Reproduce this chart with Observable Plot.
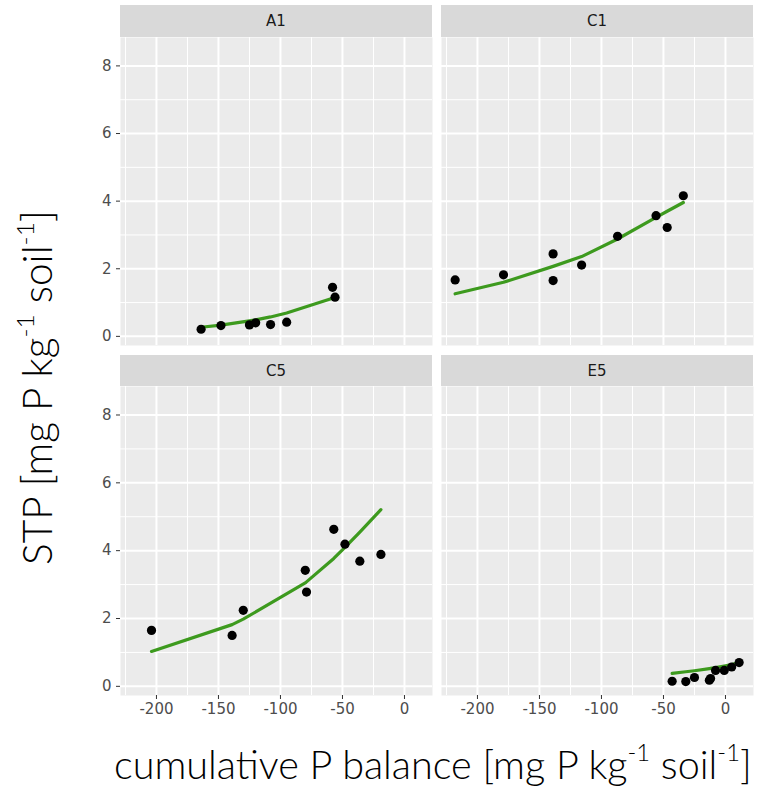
<!DOCTYPE html>
<html><head><meta charset="utf-8">
<script src="https://cdn.jsdelivr.net/npm/d3@7"></script>
<script src="https://cdn.jsdelivr.net/npm/@observablehq/plot@0.6"></script>
<style>
body{margin:0;background:#fff;}
#wrap{position:relative;width:784px;height:790px;overflow:hidden;font-family:"DejaVu Sans",sans-serif;}
.strip{position:absolute;background:#D9D9D9;color:#1a1a1a;font-size:15px;display:flex;align-items:center;justify-content:center;font-family:"DejaVu Sans",sans-serif;}
.panel{position:absolute;}
.panel svg text{font-size:15px !important;font-family:"DejaVu Sans",sans-serif !important;}
#titles{position:absolute;left:0;top:0;}
#titles text{font-family:Lato,sans-serif;font-weight:300;fill:#000;}
</style></head><body><div id="wrap"></div>
<script>
// ---- data ----
const panelNames = ["A1", "C1", "C5", "E5"];
const a1X   = [-164, -148, -125, -120, -108, -95, -58, -56];
const a1Y   = [0.21, 0.32, 0.34, 0.40, 0.35, 0.42, 1.45, 1.16];
const a1Fit = [0.27, 0.335, 0.46, 0.49, 0.575, 0.69, 1.13, 1.16];
const c1X   = [-218, -179, -139, -139, -116, -87, -56, -47, -34];
const c1Y   = [1.67, 1.82, 2.44, 1.65, 2.11, 2.96, 3.57, 3.22, 4.16];
const c1Fit = [1.26, 1.60, 2.07, 2.07, 2.36, 2.88, 3.52, 3.70, 3.96];
const c5X   = [-204, -139, -130, -80, -79, -57, -48, -36, -19];
const c5Y   = [1.65, 1.50, 2.24, 3.42, 2.78, 4.63, 4.19, 3.69, 3.89];
const c5Fit = [1.03, 1.82, 1.98, 3.05, 3.08, 3.77, 4.10, 4.55, 5.21];
const e5X   = [-43, -32, -25, -13, -12, -8, -1, 5, 11];
const e5Y   = [0.15, 0.14, 0.26, 0.18, 0.23, 0.47, 0.47, 0.57, 0.70];
const e5Fit = [0.38, 0.43, 0.46, 0.52, 0.53, 0.55, 0.60, 0.64, 0.70];
const xTicks = [-200, -150, -100, -50, 0];
const xMinor = [-225, -175, -125, -75, -25];
const yTicks = [0, 2, 4, 6, 8];
const yMinor = [1, 3, 5, 7];
// titles as [text, isSuperscript] pieces
const xTitleParts = [["cumulative P balance [mg P kg", false], ["-1", true], [" soil", false], ["-1", true], ["]", false]];
const yTitleParts = [["STP [mg P kg", false], ["-1", true], [" soil", false], ["-1", true], ["]", false]];

const xDomain = [-229, 22.6];
const yDomain = [-0.27, 8.84];
const green = "#3d9a1e";

const series = [
  {name: panelNames[0], xs: a1X, ys: a1Y, fits: a1Fit, col: 0, row: 0},
  {name: panelNames[1], xs: c1X, ys: c1Y, fits: c1Fit, col: 1, row: 0},
  {name: panelNames[2], xs: c5X, ys: c5Y, fits: c5Fit, col: 0, row: 1},
  {name: panelNames[3], xs: e5X, ys: e5Y, fits: e5Fit, col: 1, row: 1}
];

const wrap = document.getElementById("wrap");
const colLeft = [120, 441];
const stripTop = [5, 355];
const stripH = [32, 31];
const panelW = 312;
const panelH = [308, 309];

for (const s of series) {
  const data = s.xs.map((x, i) => ({x, y: s.ys[i], fit: s.fits[i]}));
  const showY = s.col === 0, showX = s.row === 1;
  const mL = showY ? 120 : 0, mB = showX ? 30 : 0;
  const marks = [
    Plot.frame({fill: "#EBEBEB", stroke: "none"}),
    Plot.ruleX(xMinor, {stroke: "#fff", strokeWidth: 1}),
    Plot.ruleY(yMinor, {stroke: "#fff", strokeWidth: 1}),
    Plot.ruleX(xTicks, {stroke: "#fff", strokeWidth: 2}),
    Plot.ruleY(yTicks, {stroke: "#fff", strokeWidth: 2}),
    Plot.line(data, {x: "x", y: "fit", stroke: green, strokeWidth: 3.2}),
    Plot.dot(data, {x: "x", y: "y", r: 4.6, fill: "#000", stroke: "none"})
  ];
  if (showY) marks.push(Plot.axisY(yTicks, {tickSize: 4, tickPadding: 5, fill: "#4d4d4d", stroke: "#333", tickFormat: d => String(d), label: null}));
  if (showX) marks.push(Plot.axisX(xTicks, {tickSize: 4, tickPadding: 4, fill: "#4d4d4d", stroke: "#333", tickFormat: d => String(d), label: null}));
  const chart = Plot.plot({
    width: panelW + mL, height: panelH[s.row] + mB,
    marginLeft: mL, marginRight: 0, marginTop: 0, marginBottom: mB,
    x: {domain: xDomain, label: null, axis: null},
    y: {domain: yDomain, label: null, axis: null},
    style: {fontFamily: "DejaVu Sans", fontSize: "15px", background: "transparent", overflow: "visible"},
    marks
  });
  const div = document.createElement("div");
  div.className = "panel";
  div.style.left = (colLeft[s.col] - mL) + "px";
  div.style.top = (stripTop[s.row] + stripH[s.row]) + "px";
  div.appendChild(chart);
  wrap.appendChild(div);
  const strip = document.createElement("div");
  strip.className = "strip";
  strip.style.left = colLeft[s.col] + "px";
  strip.style.top = stripTop[s.row] + "px";
  strip.style.width = panelW + "px";
  strip.style.height = stripH[s.row] + "px";
  strip.textContent = s.name;
  wrap.appendChild(strip);
}

// axis titles in an overlay svg
const NS = "http://www.w3.org/2000/svg";
const svg = document.createElementNS(NS, "svg");
svg.setAttribute("id", "titles");
svg.setAttribute("width", 784);
svg.setAttribute("height", 790);
wrap.appendChild(svg);
function makeTitle(parts, x, y, rotate, targetLen) {
  const t = document.createElementNS(NS, "text");
  t.setAttribute("x", 0); t.setAttribute("y", 0);
  t.setAttribute("transform", `translate(${x},${y})` + (rotate ? " rotate(-90)" : ""));
  for (const [txt, sup] of parts) {
    const ts = document.createElementNS(NS, "tspan");
    ts.textContent = txt;
    if (sup) { ts.setAttribute("font-size", "0.6em"); ts.setAttribute("dy", "-0.75em"); }
    else if (t.lastChild && t.lastChild.getAttribute("dy")) { ts.setAttribute("dy", "0.45em"); }
    t.appendChild(ts);
  }
  t.setAttribute("font-size", 30);
  svg.appendChild(t);
  const len = t.getComputedTextLength();
  t.setAttribute("font-size", 30 * targetLen / len);
  return t;
}
makeTitle(xTitleParts, 114, 779, false, 638);
makeTitle(yTitleParts, 52, 565, true, 355);
</script></body></html>
